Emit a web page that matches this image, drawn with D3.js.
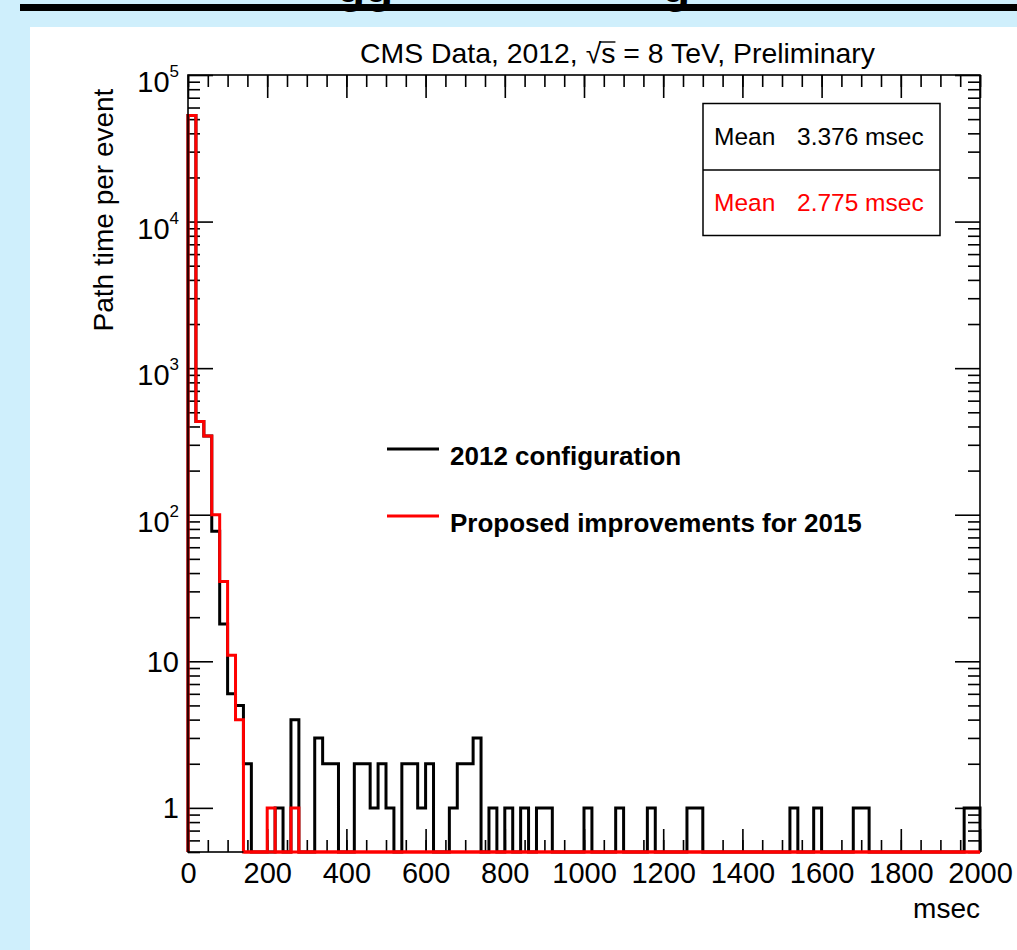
<!DOCTYPE html>
<html>
<head>
<meta charset="utf-8">
<script src="https://cdn.jsdelivr.net/npm/d3@7"></script>
<style>
  body { margin: 0; background: #cfeffc; }
  svg { display: block; font-family: "Liberation Sans", Arial, Helvetica, sans-serif; }
</style>
</head>
<body>
<div id="chart"></div>
<script>
// histogram binning (msec)
var binWidth = 20;
var xDomain = [0, 2000];
var yDomain = [0.5, 1e5];

// 2012 configuration, counts per 20 msec bin
var counts2012 = [
  53000, 432, 345, 77, 18, 6, 5, 2, 0, 0,
  0, 1, 0, 4, 0, 0, 3, 2, 2, 0,
  0, 2, 2, 1, 2, 1, 0, 2, 2, 1,
  2, 0, 0, 1, 2, 2, 3, 0, 1, 0,
  1, 0, 1, 0, 1, 1, 0, 0, 0, 0,
  1, 0, 0, 0, 1, 0, 0, 0, 1, 0,
  0, 0, 0, 1, 1, 0, 0, 0, 0, 0,
  0, 0, 0, 0, 0, 0, 1, 0, 0, 1,
  0, 0, 0, 0, 1, 1, 0, 0, 0, 0,
  0, 0, 0, 0, 0, 0, 0, 0, 1, 1
];

// proposed improvements for 2015
var counts2015 = [
  53000, 432, 345, 100, 35, 11, 4, 0, 0, 0,
  1, 0, 0, 1, 0, 0, 0, 0, 0, 0,
  0, 0, 0, 0, 0, 0, 0, 0, 0, 0,
  0, 0, 0, 0, 0, 0, 0, 0, 0, 0,
  0, 0, 0, 0, 0, 0, 0, 0, 0, 0,
  0, 0, 0, 0, 0, 0, 0, 0, 0, 0,
  0, 0, 0, 0, 0, 0, 0, 0, 0, 0,
  0, 0, 0, 0, 0, 0, 0, 0, 0, 0,
  0, 0, 0, 0, 0, 0, 0, 0, 0, 0,
  0, 0, 0, 0, 0, 0, 0, 0, 0, 0
];

var xTicks = [0, 200, 400, 600, 800, 1000, 1200, 1400, 1600, 1800, 2000];
var xMinorTicks = d3.range(0, 2001, 50);
var yTicks = [1, 10, 100, 1000, 10000, 100000];

var seriesNames = ['2012 configuration', 'Proposed improvements for 2015'];
var seriesColors = ['#000000', '#ff0000'];
var meanLabels = ['3.376 msec', '2.775 msec'];

var width = 1017, height = 950;
var frame = { left: 188, right: 980, top: 75, bottom: 852 };

var svg = d3.select('#chart').append('svg')
  .attr('width', width)
  .attr('height', height);

// slide background + white panel
svg.append('rect').attr('width', width).attr('height', height).attr('fill', '#cfeffc');
svg.append('text')
  .attr('x', 337).attr('y', 2)
  .attr('font-size', 46).attr('font-weight', 'bold')
  .attr('fill', '#000')
  .text('gg');
svg.append('text')
  .attr('x', 662).attr('y', 2)
  .attr('font-size', 46).attr('font-weight', 'bold')
  .attr('fill', '#000')
  .text('g');
svg.append('rect')
  .attr('x', 20).attr('y', 4)
  .attr('width', width - 20).attr('height', 7)
  .attr('fill', '#000');
svg.append('rect')
  .attr('x', 30).attr('y', 27)
  .attr('width', width - 30).attr('height', height - 27)
  .attr('fill', '#fff');

var x = d3.scaleLinear().domain(xDomain).range([frame.left, frame.right]);
var y = d3.scaleLog().domain(yDomain).range([frame.bottom, frame.top]);

var yMinor = y.ticks().filter(function (d) {
  return yTicks.indexOf(d) < 0;
});

// ticks on all four sides, pointing into the frame
var axes = svg.append('g').attr('class', 'axes');

axes.append('g')
  .attr('transform', 'translate(0,' + frame.bottom + ')')
  .call(d3.axisBottom(x).tickValues(xTicks).tickSize(-23).tickPadding(10)
    .tickFormat(function (d) { return d; }));
axes.append('g')
  .attr('transform', 'translate(0,' + frame.bottom + ')')
  .call(d3.axisBottom(x).tickValues(xMinorTicks).tickSize(-12).tickFormat(''));
axes.append('g')
  .attr('transform', 'translate(0,' + frame.top + ')')
  .call(d3.axisTop(x).tickValues(xTicks).tickSize(-23).tickFormat(''));
axes.append('g')
  .attr('transform', 'translate(0,' + frame.top + ')')
  .call(d3.axisTop(x).tickValues(xMinorTicks).tickSize(-12).tickFormat(''));

axes.append('g')
  .attr('transform', 'translate(' + frame.left + ',0)')
  .call(d3.axisLeft(y).tickValues(yTicks).tickSize(-25).tickFormat(''));
axes.append('g')
  .attr('transform', 'translate(' + frame.left + ',0)')
  .call(d3.axisLeft(y).tickValues(yMinor).tickSize(-12).tickFormat(''));
axes.append('g')
  .attr('transform', 'translate(' + frame.right + ',0)')
  .call(d3.axisRight(y).tickValues(yTicks).tickSize(-25).tickFormat(''));
axes.append('g')
  .attr('transform', 'translate(' + frame.right + ',0)')
  .call(d3.axisRight(y).tickValues(yMinor).tickSize(-12).tickFormat(''));

axes.selectAll('.domain').remove();
axes.selectAll('.tick line').attr('stroke', '#000').attr('stroke-width', 1.6);
axes.selectAll('.tick text')
  .attr('font-size', 29)
  .attr('font-family', '"Liberation Sans", Arial, sans-serif')
  .attr('fill', '#000');

// y labels: 1, 10, then 10^n
var yLabels = svg.append('g').attr('class', 'yLabels')
  .selectAll('text')
  .data(yTicks)
  .enter()
  .append('text')
  .attr('x', 179)
  .attr('y', function (d) { return y(d) + (d < 100 ? 10.5 : 17); })
  .attr('text-anchor', 'end')
  .attr('font-size', 29)
  .attr('fill', '#000');

yLabels.each(function (d) {
  var t = d3.select(this);
  if (d < 100) {
    t.text(d);
    return;
  }
  t.append('tspan').text('10');
  t.append('tspan')
    .attr('font-size', 17)
    .attr('dy', -15)
    .text(Math.round(Math.log10(d)));
});

// histograms
function stepPoints(counts) {
  var pts = [[x(0), y(yDomain[0])]];
  counts.forEach(function (c, i) {
    var v = c > 0 ? c : yDomain[0];
    pts.push([x(i * binWidth), y(v)]);
    pts.push([x((i + 1) * binWidth), y(v)]);
  });
  pts.push([x(xDomain[1]), y(yDomain[0])]);
  return pts;
}

var line = d3.line();
[counts2012, counts2015].forEach(function (counts, i) {
  svg.append('path')
    .attr('d', line(stepPoints(counts)))
    .attr('fill', 'none')
    .attr('stroke', seriesColors[i])
    .attr('stroke-width', 3)
    .attr('stroke-linejoin', 'miter');
});

// frame
svg.append('rect')
  .attr('x', frame.left).attr('y', frame.top)
  .attr('width', frame.right - frame.left)
  .attr('height', frame.bottom - frame.top)
  .attr('fill', 'none')
  .attr('stroke', '#000')
  .attr('stroke-width', 1.6);

// redraw red along the bottom edge on top of the frame
svg.append('line')
  .attr('x1', x(7 * binWidth)).attr('x2', x(xDomain[1]))
  .attr('y1', frame.bottom).attr('y2', frame.bottom)
  .attr('stroke', seriesColors[1]).attr('stroke-width', 3);

// title, with the bar of the square root over "s"
var titleText = 'CMS Data, 2012, \u221As = 8 TeV, Preliminary';
var title = svg.append('text')
  .attr('x', 360).attr('y', 63)
  .attr('font-size', 28)
  .attr('textLength', 515)
  .attr('lengthAdjust', 'spacingAndGlyphs')
  .attr('fill', '#000')
  .text(titleText);
var sIdx = titleText.indexOf('\u221A') + 1;
var rootBox = title.node().getExtentOfChar(sIdx - 1);
var sBox = title.node().getExtentOfChar(sIdx);
svg.append('line')
  .attr('x1', rootBox.x + rootBox.width - 2).attr('x2', sBox.x + sBox.width)
  .attr('y1', 42).attr('y2', 42)
  .attr('stroke', '#000').attr('stroke-width', 1.4);

// axis titles
svg.append('text')
  .attr('transform', 'translate(113,210) rotate(-90)')
  .attr('text-anchor', 'middle')
  .attr('font-size', 28)
  .attr('fill', '#000')
  .text('Path time per event');
svg.append('text')
  .attr('x', 980).attr('y', 918)
  .attr('text-anchor', 'end')
  .attr('font-size', 28)
  .attr('fill', '#000')
  .text('msec');

// stats box
var stats = svg.append('g').attr('class', 'stats');
stats.append('rect')
  .attr('x', 703).attr('y', 103.5)
  .attr('width', 237).attr('height', 132)
  .attr('fill', '#fff')
  .attr('stroke', '#000')
  .attr('stroke-width', 1.5);
stats.append('line')
  .attr('x1', 703).attr('x2', 940)
  .attr('y1', 170).attr('y2', 170)
  .attr('stroke', '#000')
  .attr('stroke-width', 1.5);
meanLabels.forEach(function (m, i) {
  var row = stats.append('text')
    .attr('y', 145 + i * 66)
    .attr('font-size', 24.5)
    .attr('fill', seriesColors[i]);
  row.append('tspan').attr('x', 714).text('Mean');
  row.append('tspan').attr('x', 797).text(m);
});

// legend
var legend = svg.append('g').attr('class', 'legend')
  .selectAll('g')
  .data(seriesNames)
  .enter()
  .append('g')
  .attr('transform', function (d, i) {
    return 'translate(387,' + (449 + i * 67) + ')';
  });
legend.append('line')
  .attr('x1', 0).attr('x2', 52)
  .attr('stroke', function (d, i) { return seriesColors[i]; })
  .attr('stroke-width', 3);
legend.append('text')
  .attr('x', 63).attr('y', 16)
  .attr('font-size', 26)
  .attr('font-weight', 'bold')
  .attr('fill', '#000')
  .text(function (d) { return d; });
</script>
</body>
</html>
